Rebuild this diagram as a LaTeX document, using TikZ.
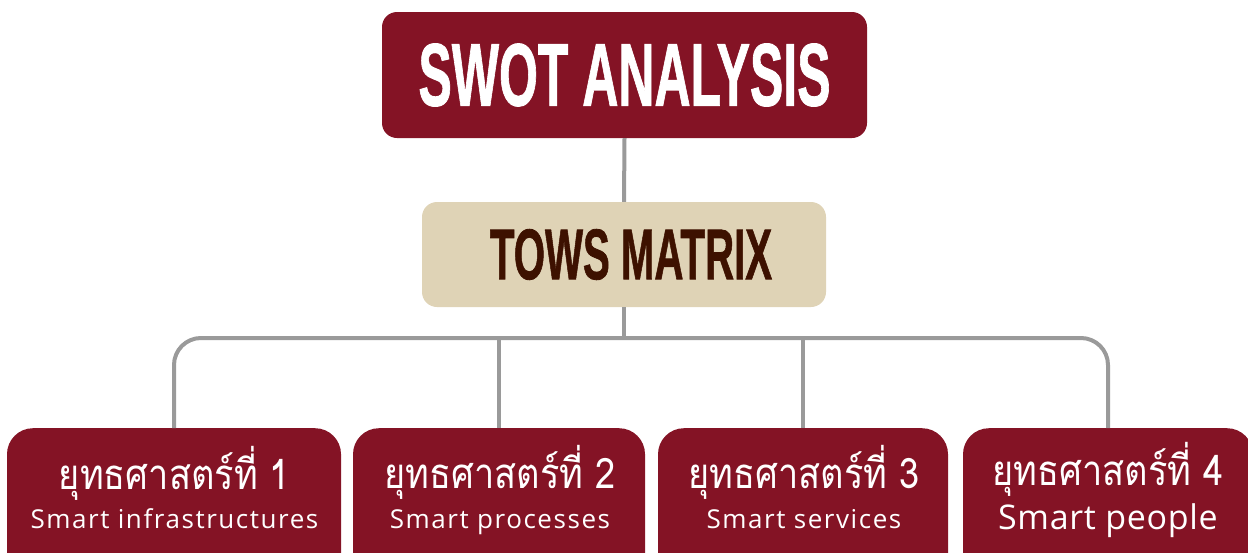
\documentclass[tikz,border=0pt]{standalone}
\usepackage{fontspec}
\usepackage{graphicx}
\setmainfont{Open Sans}
\newfontfamily\thaifont[Script=Thai, FakeStretch=0.86]{Loma}
\newfontfamily\headfont[FakeBold=1.2]{Liberation Sans Bold}
\newfontfamily\latinfont[LetterSpace=6]{Open Sans}
\newfontfamily\latinwide[LetterSpace=2]{Open Sans}

\definecolor{wine}{HTML}{841325}
\definecolor{sand}{HTML}{DFD3B6}
\definecolor{cocoa}{HTML}{3D1100}
\definecolor{wire}{HTML}{9A9A9A}

\tikzset{
  topbox/.style={fill=wine, rounded corners=15pt, minimum width=485pt, minimum height=126pt, inner sep=0pt, text=white},
  midbox/.style={fill=sand, rounded corners=15pt, minimum width=404pt, minimum height=105pt, inner sep=0pt, text=cocoa},
  stratbox/.style={fill=wine, rounded corners=26pt, minimum height=154pt, inner sep=0pt, anchor=north},
  thaitext/.style={text=white, inner sep=0pt, anchor=base, font=\thaifont\fontsize{42}{46}\selectfont},
  engtext/.style={text=white, inner sep=0pt, anchor=base, font=\latinfont\fontsize{26}{30}\selectfont},
  engbig/.style={text=white, inner sep=0pt, anchor=base, font=\latinwide\fontsize{34}{40}\selectfont},
  conn/.style={draw=wire, line width=4pt},
}

\begin{document}
\begin{tikzpicture}[x=1pt, y=-1pt]
  \useasboundingbox (0,0) rectangle (1248,552);
  \clip (0,0) rectangle (1248,552);

  % heading boxes
  \node[topbox] (swot) at (624.5,75) {\headfont\resizebox{412pt}{62pt}{SWOT ANALYSIS}};
  \node[midbox] (tows) at (624,254.5) {\hspace*{14pt}\headfont\resizebox{282pt}{50pt}{TOWS MATRIX}};

  % strategy boxes
  \node[stratbox, minimum width=334pt] (s1) at (174,428) {};
  \node[stratbox, minimum width=292pt] (s2) at (499,428) {};
  \node[stratbox, minimum width=290pt] (s3) at (803,428) {};
  \node[stratbox, minimum width=290pt] (s4) at (1108,428) {};

  % strategy labels
  \node[thaitext] (s1th) at (174.5,489) {ยุทธศาสตร์ที่ 1};
  \node[engtext]  (s1en) at (174.5,528) {Smart infrastructures};
  \node[thaitext] (s2th) at (500,488) {ยุทธศาสตร์ที่ 2};
  \node[engtext]  (s2en) at (500,528) {Smart processes};
  \node[thaitext] (s3th) at (804,488) {ยุทธศาสตร์ที่ 3};
  \node[engtext]  (s3en) at (804,528) {Smart services};
  \node[thaitext] (s4th) at (1108,485) {ยุทธศาสตร์ที่ 4};
  \node[engbig]   (s4en) at (1108,529) {Smart people};

  % connectors
  \coordinate (bus) at (624,338);
  \draw[conn] (swot.south) -- (tows.north);
  \draw[conn] (tows.south) -- (tows.south |- bus);
  \draw[conn, rounded corners=27pt] (s1.north) |- (s4.north |- bus) -- (s4.north);
  \draw[conn] (s2.north) -- (s2.north |- bus);
  \draw[conn] (s3.north) -- (s3.north |- bus);
\end{tikzpicture}
\end{document}
